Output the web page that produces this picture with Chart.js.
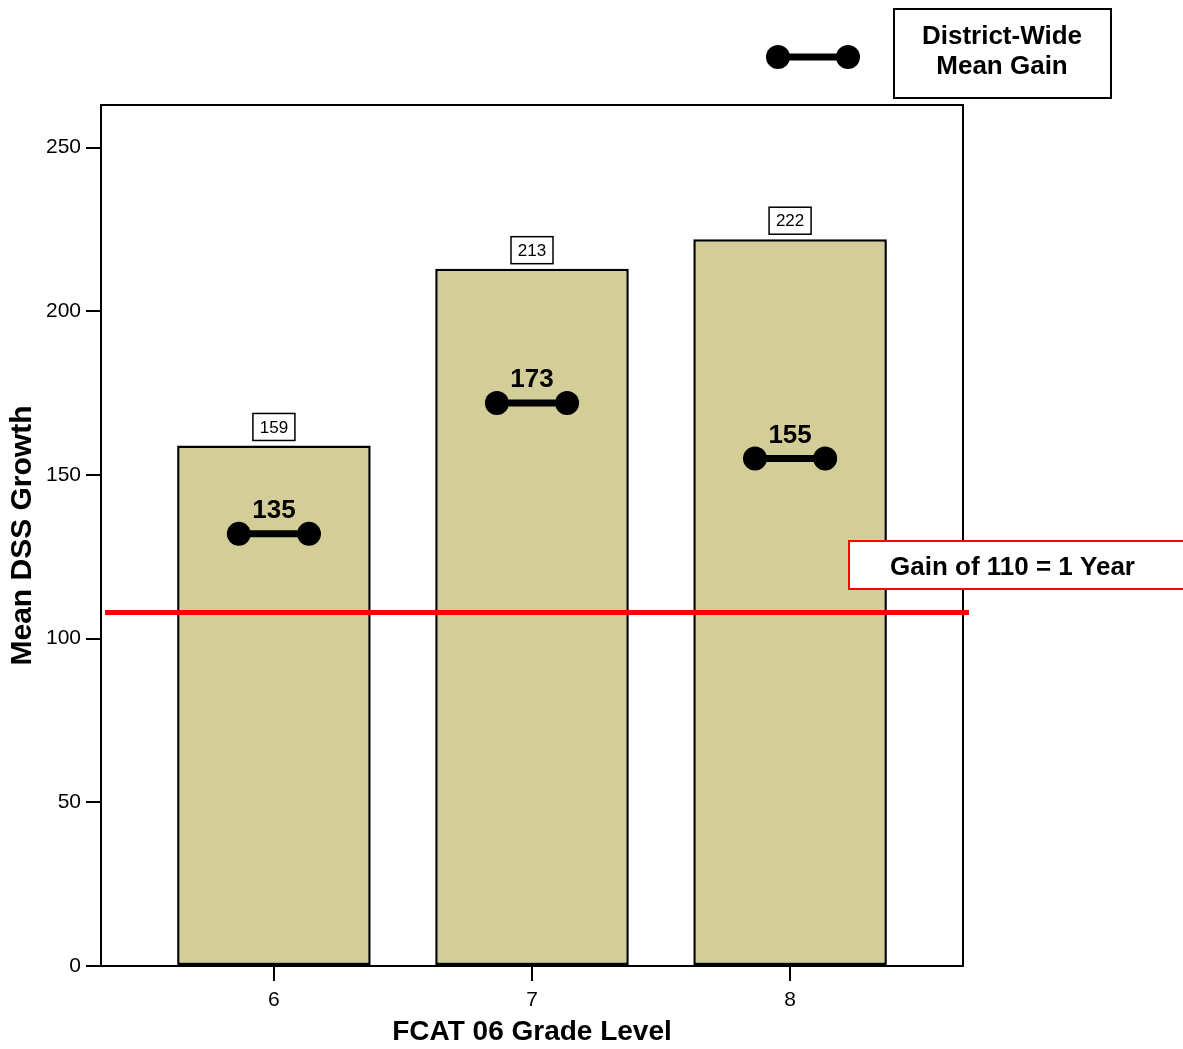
<!DOCTYPE html>
<html>
<head>
<meta charset="utf-8">
<script src="https://cdn.jsdelivr.net/npm/chart.js@4/dist/chart.umd.min.js"></script>
<style>
  html, body { margin: 0; padding: 0; background: #fff; }
  #wrap { width: 1183px; height: 1049px; }
</style>
</head>
<body>
<div id="wrap"><canvas id="c" width="1183" height="1049"></canvas></div>
<script>
// ---- data ----
const grades = [6, 7, 8];
const meanGrowth = [159, 213, 222];
const gainMarkerValues = [132, 172, 155];
const gainLabels = ['135', '173', '155'];
const yTickValues = [0, 50, 100, 150, 200, 250];
const referenceGain = 108;
const referenceLabel = 'Gain of 110 = 1 Year';
const legendLines = ['District-Wide', 'Mean Gain'];
const xTitle = 'FCAT 06 Grade Level';
const yTitle = 'Mean DSS Growth';

const FONT = "'Liberation Sans', Arial, Helvetica, sans-serif";
const BAR_FILL = '#d3ce98';
const HALF = 0.136; // half width of the mean-gain dumbbell, in grade units

const barData = grades.map((g, i) => ({ x: g, y: meanGrowth[i] }));
const gainData = [];
grades.forEach((g, i) => {
  gainData.push({ x: g - HALF, y: gainMarkerValues[i] });
  gainData.push({ x: g + HALF, y: gainMarkerValues[i] });
  gainData.push({ x: g + 0.5, y: null });
});

const annotations = {
  id: 'annotations',
  afterDatasetsDraw(chart) {
    const ctx = chart.ctx;
    const xs = chart.scales.x, ys = chart.scales.y;
    ctx.save();
    // value boxes above bars
    ctx.font = `17px ${FONT}`;
    ctx.textAlign = 'center';
    ctx.textBaseline = 'middle';
    grades.forEach((g, i) => {
      const cx = xs.getPixelForValue(g);
      const top = ys.getPixelForValue(meanGrowth[i]);
      const w = 42, h = 27;
      const bx = cx - w / 2, by = top - 5 - h;
      ctx.fillStyle = '#fff';
      ctx.fillRect(bx, by, w, h);
      ctx.lineWidth = 1.5;
      ctx.strokeStyle = '#000';
      ctx.strokeRect(bx, by, w, h);
      ctx.fillStyle = '#000';
      ctx.fillText(String(meanGrowth[i]), cx, by + h / 2 + 1);
    });
    // gain labels
    ctx.font = `bold 26px ${FONT}`;
    grades.forEach((g, i) => {
      const cx = xs.getPixelForValue(g);
      const y = ys.getPixelForValue(gainMarkerValues[i]);
      ctx.fillText(gainLabels[i], cx, y - 23);
    });
    ctx.restore();
  },
  afterDraw(chart) {
    const ctx = chart.ctx;
    const a = chart.chartArea;
    const ys = chart.scales.y;
    ctx.save();
    // frame
    ctx.strokeStyle = '#000';
    ctx.lineWidth = 2;
    ctx.strokeRect(a.left, a.top, a.right - a.left, a.bottom - a.top);
    // reference line
    const ry = ys.getPixelForValue(referenceGain);
    ctx.strokeStyle = '#ff0000';
    ctx.lineWidth = 5;
    ctx.beginPath();
    ctx.moveTo(a.left + 4, ry);
    ctx.lineTo(a.right + 6, ry);
    ctx.stroke();
    // reference label box
    ctx.fillStyle = '#fff';
    ctx.fillRect(849, 541, 345, 48);
    ctx.lineWidth = 2;
    ctx.strokeRect(849, 541, 345, 48);
    ctx.fillStyle = '#000';
    ctx.font = `bold 26px ${FONT}`;
    ctx.textAlign = 'left';
    ctx.textBaseline = 'middle';
    ctx.fillText(referenceLabel, 890, 568);
    // legend
    ctx.strokeStyle = '#000';
    ctx.lineWidth = 7;
    ctx.beginPath();
    ctx.moveTo(778, 57);
    ctx.lineTo(848, 57);
    ctx.stroke();
    ctx.fillStyle = '#000';
    [778, 848].forEach(x => {
      ctx.beginPath();
      ctx.arc(x, 57, 12, 0, Math.PI * 2);
      ctx.fill();
    });
    ctx.fillStyle = '#fff';
    ctx.fillRect(894, 9, 217, 89);
    ctx.lineWidth = 2;
    ctx.strokeRect(894, 9, 217, 89);
    ctx.fillStyle = '#000';
    ctx.font = `bold 26px ${FONT}`;
    ctx.textAlign = 'center';
    ctx.fillText(legendLines[0], 1002, 37);
    ctx.fillText(legendLines[1], 1002, 67);
    ctx.restore();
  }
};

new Chart(document.getElementById('c'), {
  type: 'bar',
  data: {
    datasets: [
      {
        type: 'line',
        data: gainData,
        borderColor: '#000',
        borderWidth: 7,
        pointRadius: 12,
        pointHoverRadius: 12,
        pointBackgroundColor: '#000',
        pointBorderWidth: 0,
        spanGaps: false,
        order: 1
      },
      {
        type: 'bar',
        data: barData,
        backgroundColor: BAR_FILL,
        borderColor: '#000',
        borderWidth: 2.5,
        borderSkipped: false,
        barPercentage: 0.75,
        categoryPercentage: 1,
        order: 2
      }
    ]
  },
  options: {
    responsive: false,
    animation: false,
    devicePixelRatio: 1,
    layout: { padding: { top: 105, right: 220, left: 0, bottom: 0 } },
    plugins: { legend: { display: false }, tooltip: { enabled: false } },
    scales: {
      x: {
        type: 'linear',
        min: 5.33,
        max: 8.67,
        offset: false,
        afterBuildTicks: s => { s.ticks = grades.map(v => ({ value: v })); },
        afterFit: s => { s.height = 83; },
        ticks: { color: '#000', font: { family: FONT, size: 21 }, padding: 7, includeBounds: false },
        grid: { display: true, offset: false, drawOnChartArea: false, drawTicks: true, tickLength: 15, color: '#000', lineWidth: 2 },
        border: { display: false },
        title: { display: true, text: xTitle, color: '#000', font: { family: FONT, size: 28, weight: 'bold' }, padding: { top: 2, bottom: 0 } }
      },
      y: {
        type: 'linear',
        min: 0,
        max: 263,
        afterBuildTicks: s => { s.ticks = yTickValues.map(v => ({ value: v })); },
        afterFit: s => { s.width = 101; },
        ticks: { color: '#000', font: { family: FONT, size: 21 }, padding: 5, includeBounds: false },
        grid: { display: true, drawOnChartArea: false, drawTicks: true, tickLength: 15, color: '#000', lineWidth: 2 },
        border: { display: false },
        title: { display: true, text: yTitle, color: '#000', font: { family: FONT, size: 30, weight: 'bold' }, padding: { top: 5, bottom: 0 } }
      }
    }
  },
  plugins: [annotations]
});
</script>
</body>
</html>
